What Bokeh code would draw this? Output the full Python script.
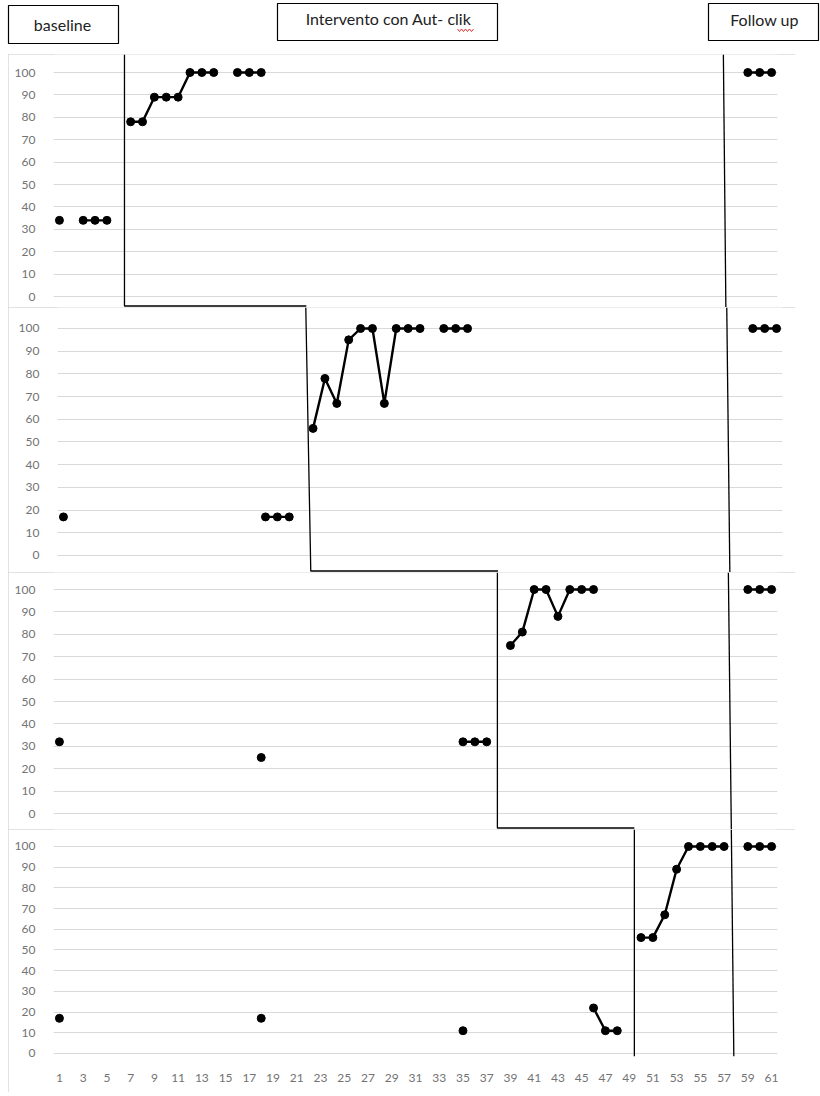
import math
from bokeh.plotting import figure
from bokeh.layouts import column, row
from bokeh.models import Range1d, FixedTicker, Spacer
from bokeh.core.properties import value
from bokeh.embed import file_html
from bokeh.resources import INLINE

# ---------------- data ----------------
x_tick_values = list(range(1, 62, 2))
y_tick_values = list(range(0, 101, 10))
phase_labels = ["baseline", "Intervento con Aut- clik", "Follow up"]

p1_x = [1, 3, 4, 5, 7, 8, 9, 10, 11, 12, 13, 14, 16, 17, 18, 59, 60, 61]
p1_y = [34, 34, 34, 34, 78, 78, 89, 89, 89, 100, 100, 100, 100, 100, 100, 100, 100, 100]

p2_x = [1, 18, 19, 20, 22, 23, 24, 25, 26, 27, 28, 29, 30, 31, 33, 34, 35, 59, 60, 61]
p2_y = [17, 17, 17, 17, 56, 78, 67, 95, 100, 100, 67, 100, 100, 100, 100, 100, 100, 100, 100, 100]

p3_x = [1, 18, 35, 36, 37, 39, 40, 41, 42, 43, 44, 45, 46, 59, 60, 61]
p3_y = [32, 25, 32, 32, 32, 75, 81, 100, 100, 88, 100, 100, 100, 100, 100, 100]

p4_x = [1, 18, 35, 46, 47, 48, 50, 51, 52, 53, 54, 55, 56, 57, 59, 60, 61]
p4_y = [17, 17, 11, 22, 11, 11, 56, 56, 67, 89, 100, 100, 100, 100, 100, 100, 100]

# phase-change lines (session units): (top, bottom, end of horizontal step)
phase_step = [(6.48, 6.48, 21.8), (21.39, 21.81, 37.56), (37.9, 37.9, 49.44), (49.44, 49.44, None)]
follow_line = [(56.94, 57.15), (56.81, 57.07), (57.36, 57.61), (57.61, 57.82)]

# ---------------- layout ----------------
FONT = "Lato"
GRAY = "#737373"
GRID = "#d9d9d9"

panel_cfg = [
    dict(x=p1_x, y=p1_y, h=253, bl=45, br=18, bb=0, y0=-4.91, y1=108.04),
    dict(x=p2_x, y=p2_y, h=265, bl=49, br=13, bb=0, y0=-7.49, y1=109.25),
    dict(x=p3_x, y=p3_y, h=257, bl=45, br=18, bb=0, y0=-7.14, y1=107.59),
    dict(x=p4_x, y=p4_y, h=263, bl=45, br=18, bb=36, y0=-1.45, y1=108.21),
]
W = 787


def with_gaps(xs, ys):
    lx, ly = [], []
    for i, (xv, yv) in enumerate(zip(xs, ys)):
        if i > 0 and xv - xs[i - 1] > 1:
            lx.append(math.nan)
            ly.append(math.nan)
        lx.append(xv)
        ly.append(yv)
    return lx, ly


# header with phase labels (page pixel coordinates)
hdr = figure(width=820, height=54, output_backend="svg", toolbar_location=None,
             x_range=Range1d(0, 820), y_range=Range1d(54, 0),
             min_border_left=0, min_border_right=0, min_border_top=0, min_border_bottom=0,
             x_axis_location=None, y_axis_location=None)
hdr.grid.visible = False
hdr.outline_line_color = None
boxes_l = [8, 277, 708]
boxes_r = [118, 497, 818]
boxes_t = [5, 3, 3]
boxes_b = [43, 40, 40]
hdr.quad(left=boxes_l, right=boxes_r, top=boxes_t, bottom=boxes_b,
         fill_color="white", line_color="black", line_width=1.2)
hdr.text(x=[62, 388, 764], y=[24, 18, 19], text=phase_labels,
         text_font=value(FONT), text_font_size="16px", text_color="#222222",
         text_align="center", text_baseline="middle")
hdr.line(x=[457, 459, 461, 463, 465, 467, 469, 471, 473],
         y=[28.5, 31, 28.5, 31, 28.5, 31, 28.5, 31, 28.5], line_color="#e03030", line_width=1)

rows = [hdr]
for i, c in enumerate(panel_cfg):
    last = i == len(panel_cfg) - 1
    p = figure(width=W, height=c["h"], output_backend="svg", toolbar_location=None,
               x_range=Range1d(0.5, 61.5), y_range=Range1d(c["y0"], c["y1"]),
               min_border_left=c["bl"], min_border_right=c["br"],
               min_border_top=0, min_border_bottom=c["bb"],
               x_axis_location="below" if last else None)
    p.styles = {"outline": "1px solid #d9d9d9", "outline-offset": "-1px"}
    p.outline_line_color = None
    p.background_fill_color = "white"
    p.xgrid.visible = False
    p.ygrid.ticker = FixedTicker(ticks=y_tick_values)
    p.ygrid.grid_line_color = GRID
    p.ygrid.grid_line_width = 1
    ya = p.yaxis[0]
    ya.ticker = FixedTicker(ticks=y_tick_values)
    ya.axis_line_color = None
    ya.major_tick_line_color = None
    ya.minor_tick_line_color = None
    ya.major_label_standoff = 12
    ya.major_label_text_font = FONT
    ya.major_label_text_font_size = "12px"
    ya.major_label_text_color = GRAY
    if last:
        xa = p.xaxis[0]
        xa.ticker = FixedTicker(ticks=x_tick_values)
        xa.axis_line_color = None
        xa.major_tick_line_color = None
        xa.minor_tick_line_color = None
        xa.major_label_standoff = 11
        xa.major_label_text_font = FONT
        xa.major_label_text_font_size = "12px"
        xa.major_label_text_color = GRAY

    frame_h = c["h"] - c["bb"]
    ppu = frame_h / (c["y1"] - c["y0"])
    y_low = c["y0"] + 1.5 / ppu

    # phase-change stepped line
    xt, xb, xe = phase_step[i]
    if xe is None:
        p.line([xt, xb], [c["y1"], c["y0"]], line_color="black", line_width=1.3)
    else:
        p.line([xt, xb, xe], [c["y1"], y_low, y_low], line_color="black", line_width=1.3)
    # follow-up separator
    ft, fb = follow_line[i]
    p.line([ft, fb], [c["y1"], c["y0"]], line_color="black", line_width=1.3)

    lx, ly = with_gaps(c["x"], c["y"])
    p.line(lx, ly, line_color="black", line_width=2.4)
    p.scatter(c["x"], c["y"], size=8, fill_color="black", line_color="black")
    rows.append(row(Spacer(width=8, height=c["h"]), p, spacing=0))

layout = column(*rows, spacing=0)
open("out.html", "w").write(file_html(layout, INLINE))
